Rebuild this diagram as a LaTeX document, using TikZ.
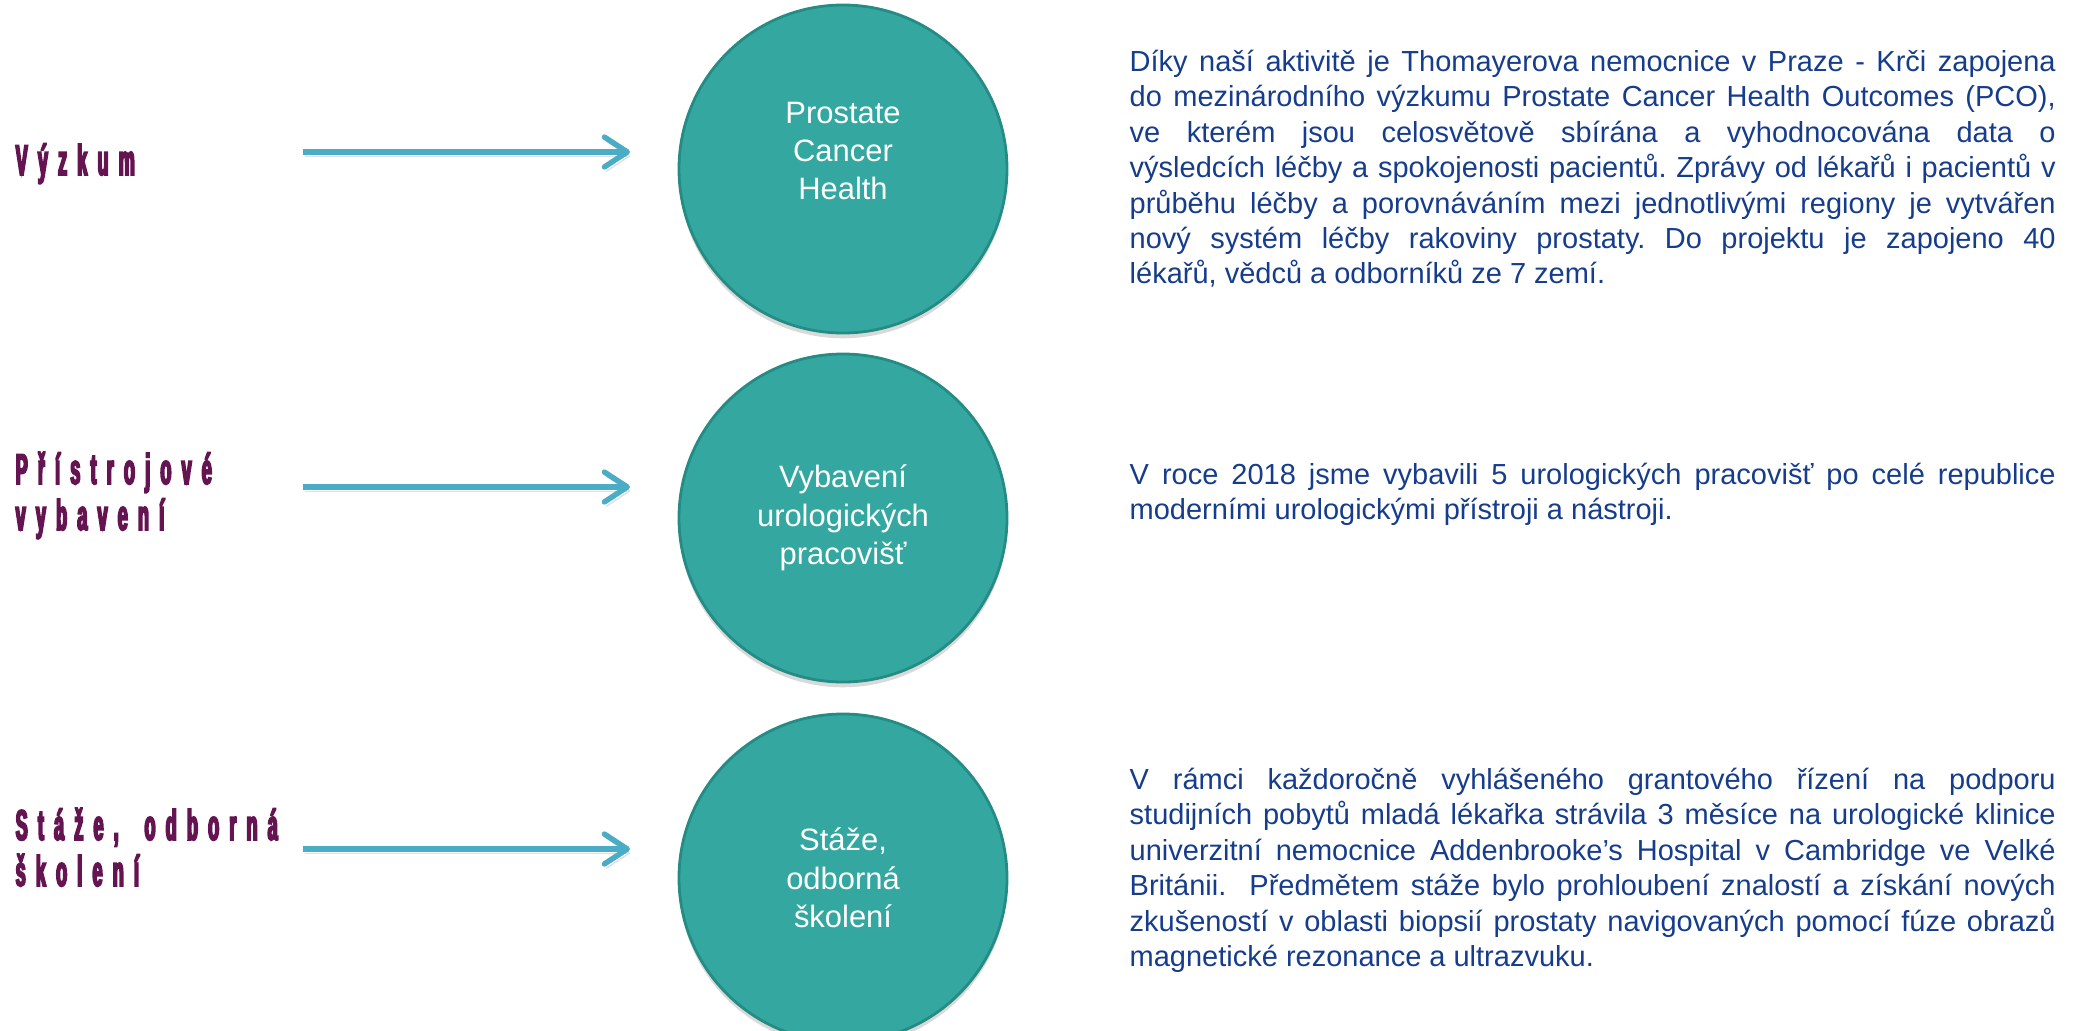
\documentclass[tikz,border=0pt]{standalone}
\usepackage{fontspec}
\setmainfont{Liberation Sans}
\newfontfamily\labfont[FakeStretch=0.42,LetterSpace=23.8,FakeBold=4]{Liberation Sans Bold}
\usetikzlibrary{arrows.meta, shadows, positioning}
\definecolor{tealfill}{RGB}{52,168,160}
\definecolor{tealedge}{RGB}{36,140,133}
\definecolor{arrowblue}{RGB}{75,172,198}
\definecolor{plum}{RGB}{100,20,80}
\definecolor{navy}{RGB}{22,60,140}
\hyphenpenalty=10000
\exhyphenpenalty=10000
\tolerance=9999
\frenchspacing

\begin{document}
\begin{tikzpicture}[
        bubble/.style={circle, fill=tealfill, draw=tealedge, line width=0.8pt, minimum size=3.28cm, inner sep=0pt,
            drop shadow={opacity=0.3, shadow xshift=0pt, shadow yshift=-1.5pt}},
        bubbletext/.style={text=white, align=center, inner sep=0pt, font=\fontsize{8.8}{10.95}\selectfont},
        side/.style={anchor=north west, inner sep=0pt, align=left, text=plum, font=\fontsize{12.2}{13.1}\selectfont\labfont},
        note/.style={anchor=north west, inner sep=0pt, text width=9.26cm, align=justify, text=navy,
            font=\fontsize{8.25}{10.07}\selectfont},
        link/.style={draw=arrowblue, line width=1.55pt, -{Straight Barb[length=6.5pt, width=8.5pt, round]},
            preaction={draw=black!30, opacity=0.4, transform canvas={xshift=0.6pt, yshift=-1.2pt}}}
    ]
        \useasboundingbox (0,0) rectangle (20.75,-10.30);
        \clip (0,0) rectangle (20.75,-10.30);

        \node[bubble] (c1) at (8.43, -1.69) {};
        \node[bubble] (c2) at (8.43, -5.18) {};
        \node[bubble] (c3) at (8.43, -8.78) {};
        \node[bubbletext, yshift=0.18cm] (t1) at (c1) {Prostate\\Cancer\\Health};
        \node[bubbletext] (t2) at (c2) {Vybavení\\urologických\\pracovišť};
        \node[bubbletext] (t3) at (c3) {Stáže,\\odborná\\školení};

        \node[side] (l1) at (0.15, -1.42) {\strut Výzkum};
        \node[side] (l2) at (0.15, -4.51) {\strut Přístrojové\\vybavení};
        \node[side] (l3) at (0.15, -8.07) {\strut Stáže,\hspace{3pt} odborná\\školení};

        \coordinate (a1) at (3.03, -1.52);
        \coordinate (b1) at (6.30, -1.52);
        \coordinate (a2) at (3.03, -4.87);
        \coordinate (b2) at (6.30, -4.87);
        \coordinate (a3) at (3.03, -8.49);
        \coordinate (b3) at (6.30, -8.49);
        \draw[link] (a1) -- (b1);
        \draw[link] (a2) -- (b2);
        \draw[link] (a3) -- (b3);

        \node[note] (n1) at (11.29, -0.46) {\strut Díky naší aktivitě je Thomayerova nemocnice v Praze - Krči zapojena\linebreak
            do mezinárodního výzkumu Prostate Cancer Health Outcomes (PCO),\linebreak
            ve kterém jsou celosvětově sbírána a vyhodnocována data o\linebreak
            výsledcích léčby a spokojenosti pacientů. Zprávy od lékařů i pacientů v\linebreak
            průběhu léčby a porovnáváním mezi jednotlivými regiony je vytvářen\linebreak
            nový systém léčby rakoviny prostaty. Do projektu je zapojeno 40\linebreak
            lékařů, vědců a odborníků ze 7 zemí.};
        \node[note] (n2) at (11.29, -4.59) {\strut V roce 2018 jsme vybavili 5 urologických pracovišť po celé republice\linebreak
            moderními urologickými přístroji a nástroji.};
        \node[note] (n3) at (11.29, -7.64) {\strut V rámci každoročně vyhlášeného grantového řízení na podporu\linebreak
            studijních pobytů mladá lékařka strávila 3 měsíce na urologické klinice\linebreak
            univerzitní nemocnice Addenbrooke’s Hospital v Cambridge ve Velké\linebreak
            Británii.\ \ Předmětem stáže bylo prohloubení znalostí a získání nových\linebreak
            zkušeností v oblasti biopsií prostaty navigovaných pomocí fúze obrazů\linebreak
            magnetické rezonance a ultrazvuku.};
    \end{tikzpicture}
\end{document}
